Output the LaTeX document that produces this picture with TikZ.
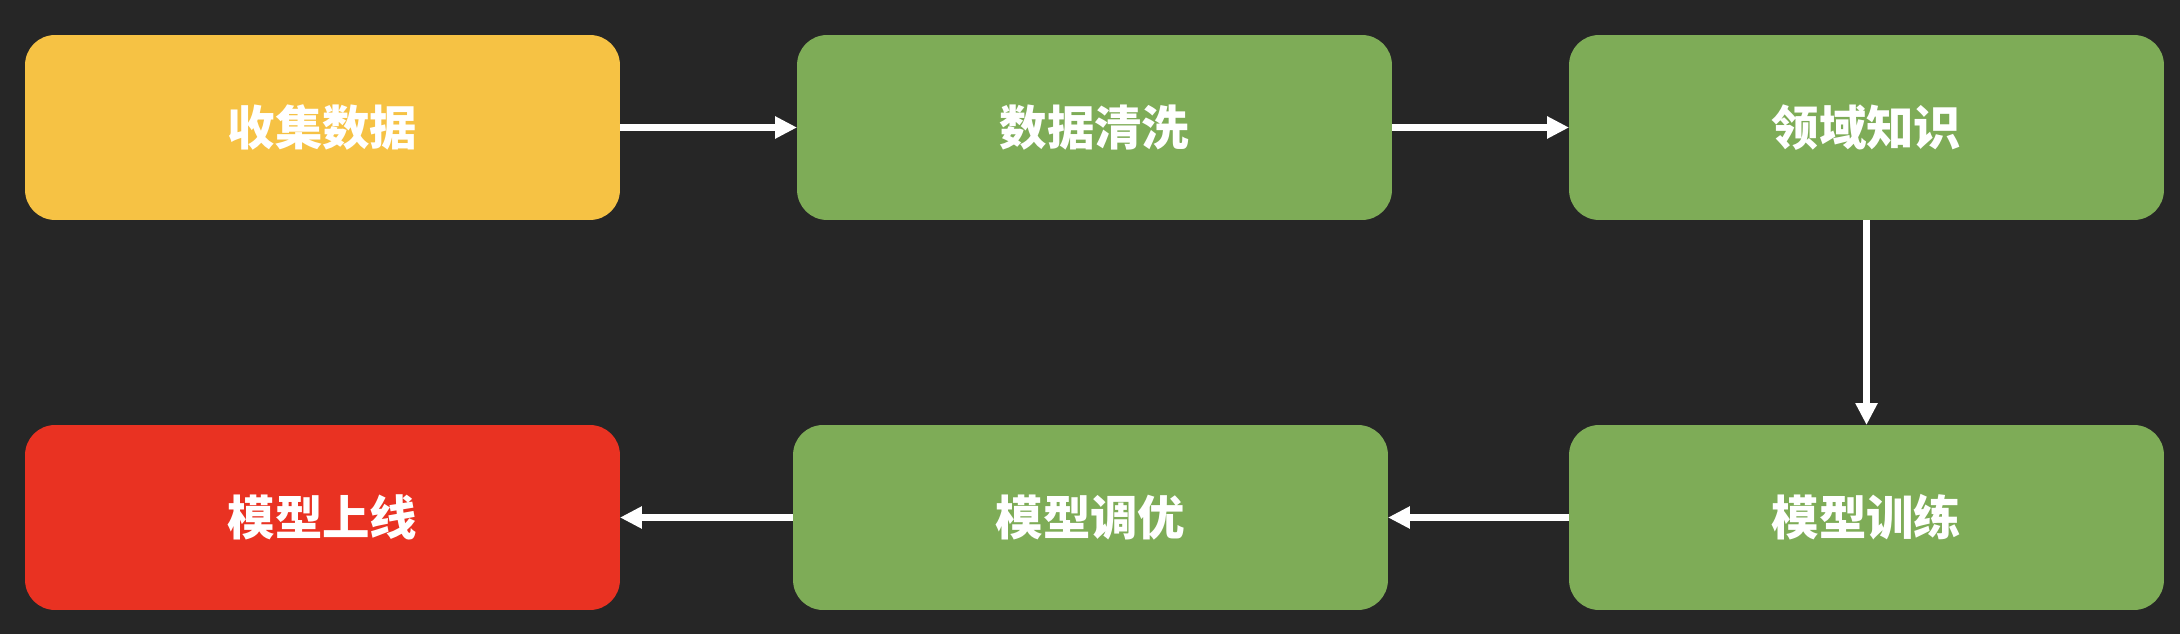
\documentclass[tikz,border=0pt]{standalone}
\usepackage{fontspec}
\newfontfamily\cjk{Noto Sans CJK SC}
\usepackage{tikz}
\usetikzlibrary{arrows.meta}
\definecolor{bgdark}{HTML}{262626}
\definecolor{stageyellow}{HTML}{F6C244}
\definecolor{stagegreen}{HTML}{7EAC57}
\definecolor{stagered}{HTML}{E93222}
\tikzset{
	stage/.style={shape=rectangle,rounded corners=0.6cm,minimum width=11.9cm,minimum height=3.7cm,inner sep=0pt,outer sep=0pt,text=white,font=\cjk\bfseries\fontsize{27}{31}\selectfont},
	flow/.style={draw=white,line width=0.13cm,-{Triangle[length=0.44cm,width=0.42cm]}}
}

\begin{document}
\begin{tikzpicture}[x=0.02cm,y=-0.02cm]
		\fill[bgdark] (0,0) rectangle (2180,634);
		\node[stage,fill=stageyellow] (collect) at (322.5,127.5) {收集数据};
		\node[stage,fill=stagegreen] (clean) at (1094.5,127.5) {数据清洗};
		\node[stage,fill=stagegreen] (domain) at (1866.5,127.5) {领域知识};
		\node[stage,fill=stagered] (deploy) at (322.5,517.5) {模型上线};
		\node[stage,fill=stagegreen] (tune) at (1090.5,517.5) {模型调优};
		\node[stage,fill=stagegreen] (train) at (1866.5,517.5) {模型训练};
		\draw [flow] (collect) -- (clean);
		\draw [flow] (clean) -- (domain);
		\draw [flow] (domain) -- (train);
		\draw [flow] (train) -- (tune);
		\draw [flow] (tune) -- (deploy);
	\end{tikzpicture}
\end{document}
